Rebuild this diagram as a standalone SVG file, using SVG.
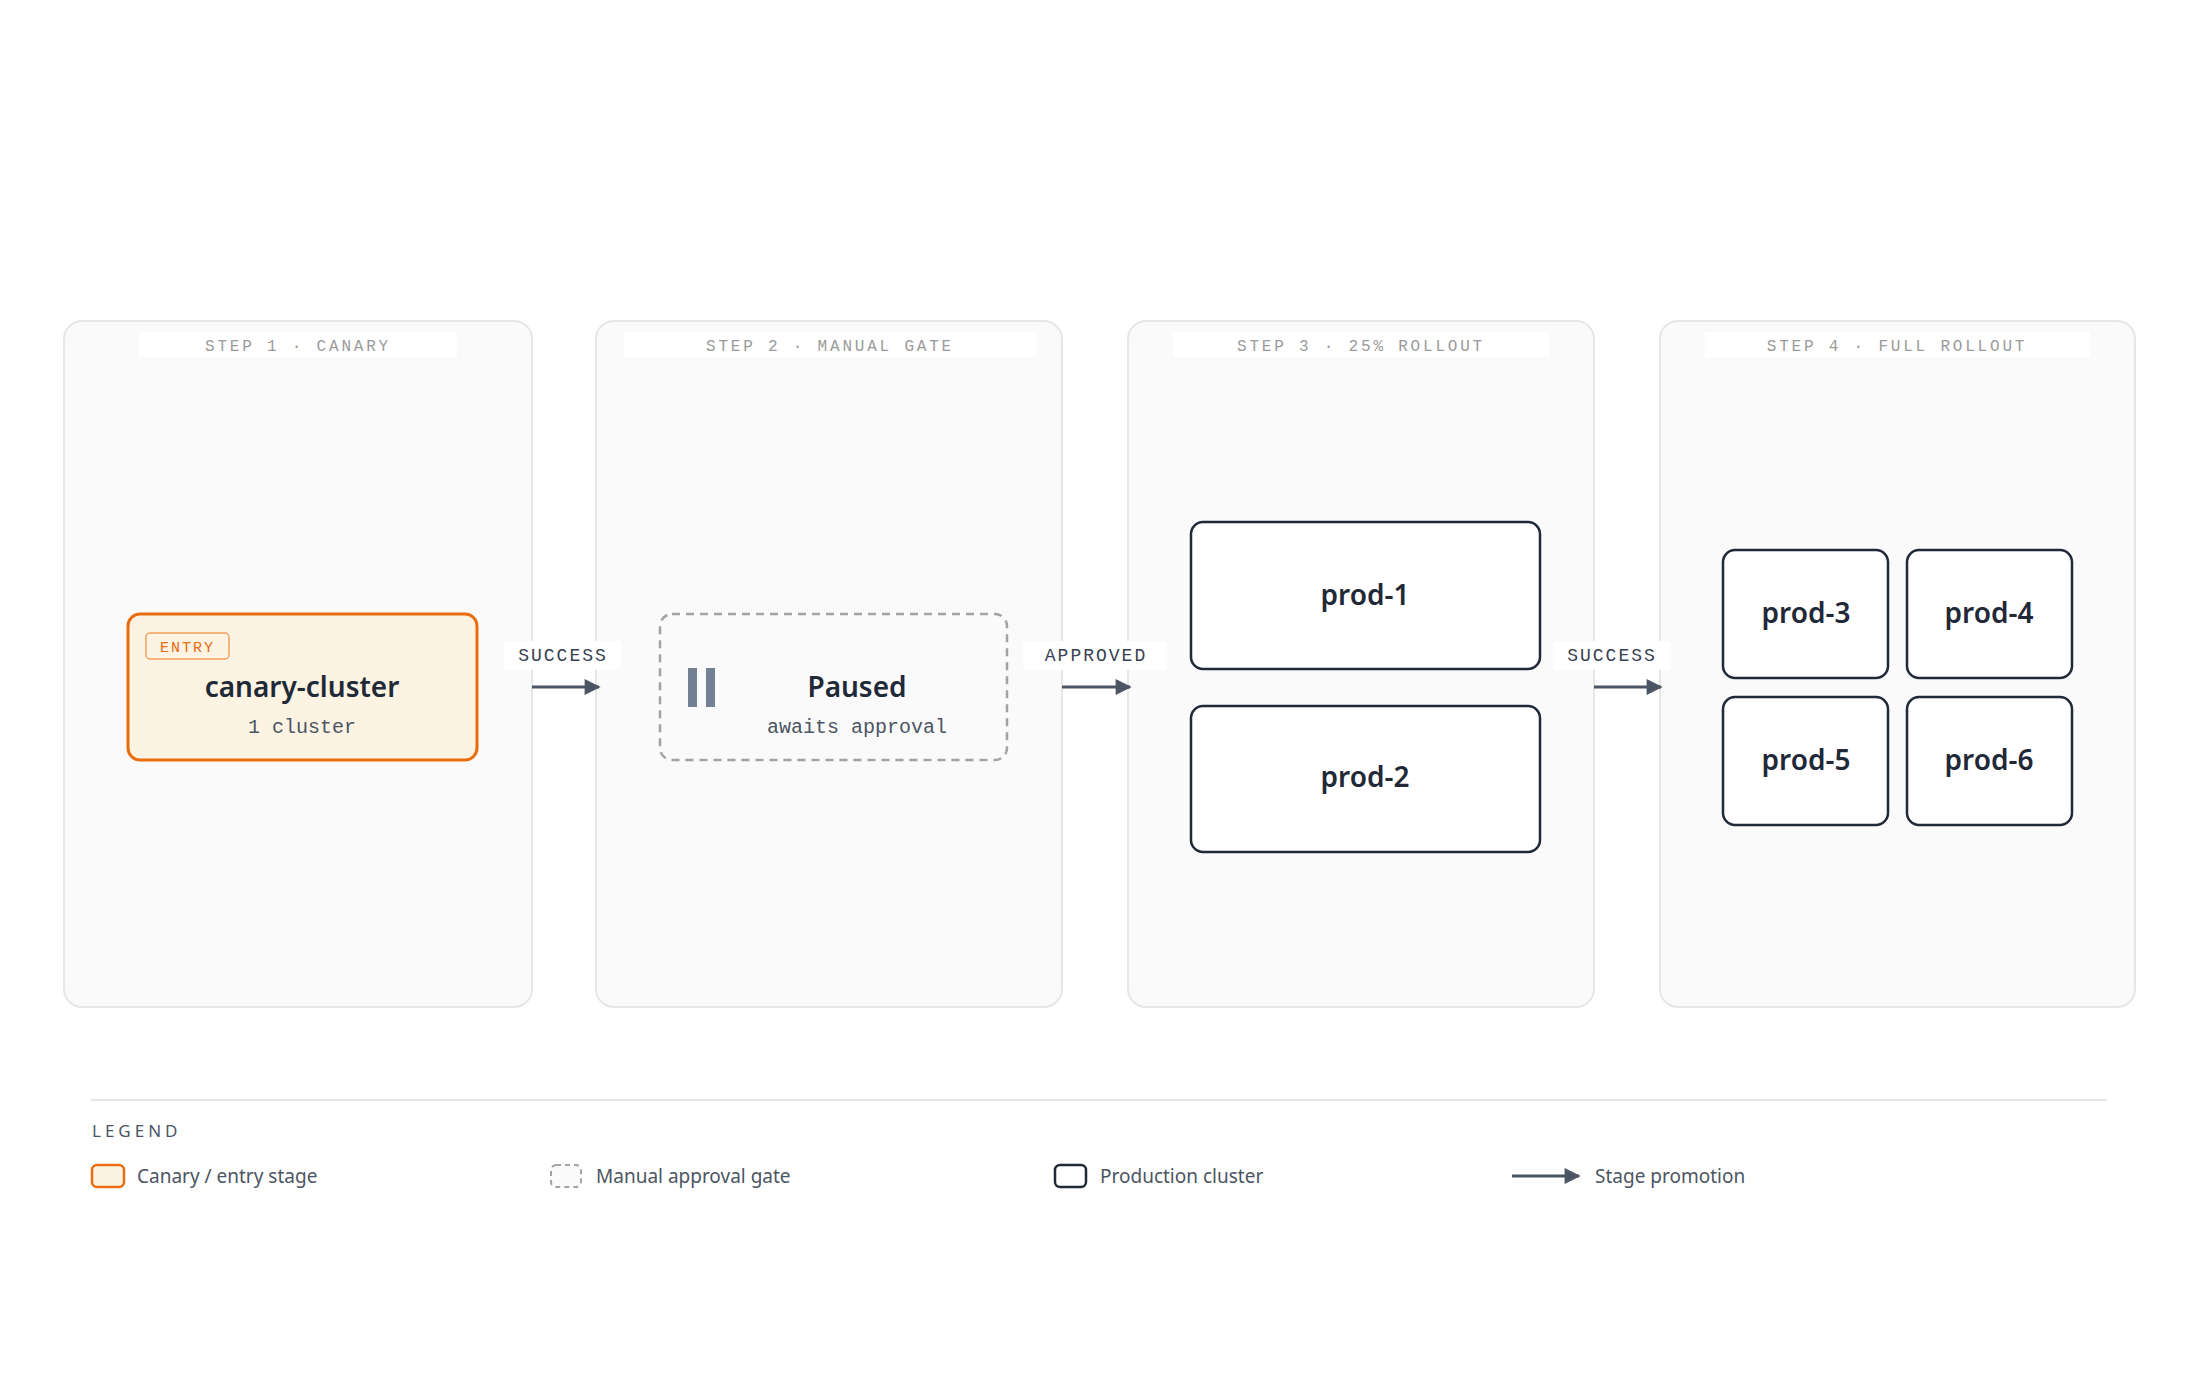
<svg xmlns="http://www.w3.org/2000/svg" width="2200" height="1376" viewBox="0 0 2200 1376">
<style>
.panel{fill:#fafafa;stroke:#e6e6e6;stroke-width:2}
.ptitle{font-family:"Liberation Mono",monospace;font-size:16px;fill:#9a9a9a;letter-spacing:2.8px;text-anchor:middle}
.tbg{fill:#ffffff}
.prod{fill:#ffffff;stroke:#1f2937;stroke-width:2.5}
.ntext{font-family:"Noto Sans",sans-serif;font-weight:600;font-size:28px;fill:#1f2937;text-anchor:middle}
.sub{font-family:"Liberation Mono",monospace;font-size:20px;fill:#4b5563;text-anchor:middle}
.elabel{font-family:"Liberation Mono",monospace;font-size:18px;fill:#374151;letter-spacing:2px;text-anchor:middle}
.edge{stroke:#4b5563;stroke-width:3;fill:none}
.leg{font-family:"Noto Sans",sans-serif;font-size:19px;fill:#4b5563}
</style>
<defs>
<marker id="ahl" viewBox="0 0 10 10" refX="9" refY="5" markerWidth="24" markerHeight="16" markerUnits="userSpaceOnUse" orient="auto">
<path d="M0,0 L10,5 L0,10 z" fill="#4b5563"/>
</marker>
</defs>
<rect width="2200" height="1376" fill="#ffffff"/>
<g id="panels">
<g id="step1"><rect class="panel" x="64" y="321" width="468" height="686" rx="18"/><rect class="tbg" x="139" y="332" width="318" height="25"/><text class="ptitle" x="298" y="351">STEP 1 · CANARY</text></g>
<g id="step2"><rect class="panel" x="596" y="321" width="466" height="686" rx="18"/><rect class="tbg" x="624" y="332" width="412" height="25"/><text class="ptitle" x="830" y="351">STEP 2 · MANUAL GATE</text></g>
<g id="step3"><rect class="panel" x="1128" y="321" width="466" height="686" rx="18"/><rect class="tbg" x="1173" y="332" width="376" height="25"/><text class="ptitle" x="1361" y="351">STEP 3 · 25% ROLLOUT</text></g>
<g id="step4"><rect class="panel" x="1660" y="321" width="475" height="686" rx="18"/><rect class="tbg" x="1705" y="332" width="385" height="25"/><text class="ptitle" x="1897" y="351">STEP 4 · FULL ROLLOUT</text></g>
</g>
<g id="canary">
<rect x="128" y="614" width="349" height="146" rx="12" fill="#fdf3e3" stroke="#ea6c10" stroke-width="3"/>
<rect x="146" y="633" width="83" height="26" rx="4" fill="#fdf3e3" stroke="#f0a060" stroke-width="1.5"/>
<text x="187.5" y="652" font-family="Liberation Mono,monospace" font-size="15" fill="#ea6c10" text-anchor="middle" letter-spacing="2">ENTRY</text>
<text class="ntext" x="302" y="697">canary-cluster</text>
<text class="sub" x="302" y="733">1 cluster</text>
</g>
<g id="paused">
<rect x="660" y="614" width="347" height="146" rx="12" fill="#fafafa" stroke="#a3a3a3" stroke-width="2.5" stroke-dasharray="8 6"/>
<rect x="688" y="668" width="9" height="39" fill="#748194"/>
<rect x="706" y="668" width="9" height="39" fill="#748194"/>
<text class="ntext" x="857" y="697">Paused</text>
<text class="sub" x="857" y="733">awaits approval</text>
</g>
<g id="prod-1"><rect class="prod" x="1191" y="522" width="349" height="147" rx="12"/><text class="ntext" x="1365" y="605">prod-1</text></g>
<g id="prod-2"><rect class="prod" x="1191" y="706" width="349" height="146" rx="12"/><text class="ntext" x="1365" y="787">prod-2</text></g>
<g id="prod-3"><rect class="prod" x="1723" y="550" width="165" height="128" rx="12"/><text class="ntext" x="1806" y="623">prod-3</text></g>
<g id="prod-4"><rect class="prod" x="1907" y="550" width="165" height="128" rx="12"/><text class="ntext" x="1989" y="623">prod-4</text></g>
<g id="prod-5"><rect class="prod" x="1723" y="697" width="165" height="128" rx="12"/><text class="ntext" x="1806" y="770">prod-5</text></g>
<g id="prod-6"><rect class="prod" x="1907" y="697" width="165" height="128" rx="12"/><text class="ntext" x="1989" y="770">prod-6</text></g>
<g id="connectors">
<line class="edge" x1="532" y1="687" x2="599" y2="687" marker-end="url(#ahl)"/>
<rect class="tbg" x="504" y="641" width="117" height="29" rx="3"/>
<text class="elabel" x="563" y="661">SUCCESS</text>
<line class="edge" x1="1062" y1="687" x2="1130" y2="687" marker-end="url(#ahl)"/>
<rect class="tbg" x="1023" y="641" width="144" height="29" rx="3"/>
<text class="elabel" x="1096" y="661">APPROVED</text>
<line class="edge" x1="1594" y1="687" x2="1661" y2="687" marker-end="url(#ahl)"/>
<rect class="tbg" x="1553" y="641" width="118" height="29" rx="3"/>
<text class="elabel" x="1612" y="661">SUCCESS</text>
</g>
<g id="legend">
<line x1="91" y1="1100" x2="2107" y2="1100" stroke="#e5e5e5" stroke-width="2"/>
<text x="92" y="1137" font-family="Noto Sans,sans-serif" font-size="17" fill="#4b5563" letter-spacing="4">LEGEND</text>
<rect x="92" y="1165" width="32" height="22" rx="5" fill="#fdf3e3" stroke="#ea6c10" stroke-width="2.5"/>
<text class="leg" x="137" y="1183">Canary / entry stage</text>
<rect x="551" y="1165" width="30" height="22" rx="5" fill="#fafafa" stroke="#a3a3a3" stroke-width="2" stroke-dasharray="5 4"/>
<text class="leg" x="596" y="1183">Manual approval gate</text>
<rect x="1055" y="1165" width="31" height="22" rx="5" fill="#ffffff" stroke="#1f2937" stroke-width="2.5"/>
<text class="leg" x="1100" y="1183">Production cluster</text>
<line class="edge" x1="1512" y1="1176" x2="1579" y2="1176" marker-end="url(#ahl)"/>
<text class="leg" x="1595" y="1183">Stage promotion</text>
</g>
</svg>
